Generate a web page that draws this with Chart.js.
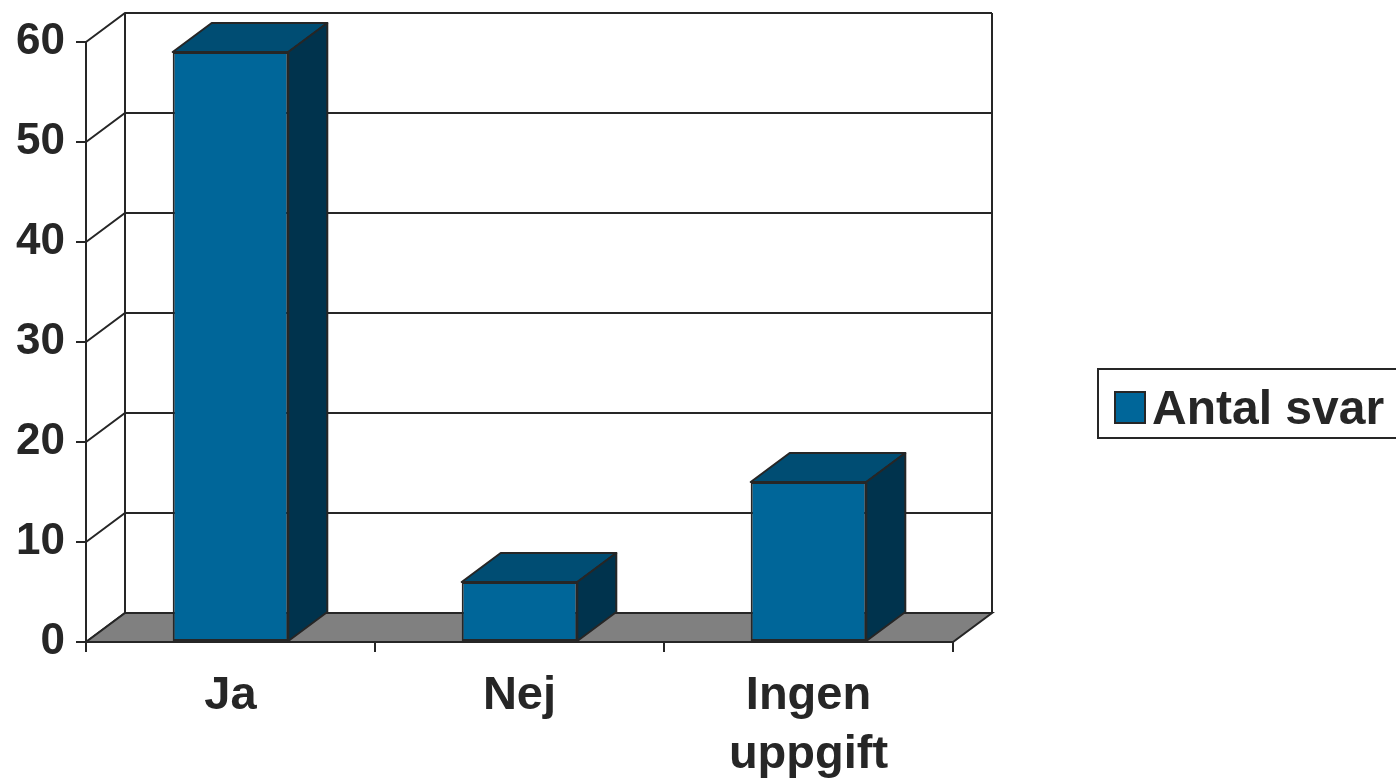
<!DOCTYPE html>
<html>
<head>
<meta charset="utf-8">
<script src="https://cdn.jsdelivr.net/npm/chart.js@4.4.0/dist/chart.umd.min.js"></script>
<style>
  body { margin: 0; background: #fff; }
  canvas { display: block; }
</style>
</head>
<body>
<canvas id="barChart" width="1396" height="784"></canvas>
<script>
// data
const categories = ['Ja', 'Nej', ['Ingen', 'uppgift']];
const answerCounts = [59, 6, 16];
const seriesName = 'Antal svar';
const yTicks = [0, 10, 20, 30, 40, 50, 60];

// look
const ink = '#262626';
const frontColor = '#006699';
const topColor = '#004d73';
const sideColor = '#00334d';
const floorColor = '#808080';
const depthX = 39;
const depthY = 29;
const fontFamily = '"Liberation Sans", Arial, sans-serif';

// back wall, side wall and the grey floor, drawn before the bars
const wallsPlugin = {
  id: 'walls',
  beforeDatasetsDraw(chart) {
    const { ctx, chartArea: a } = chart;
    const y = chart.scales.y;
    ctx.save();
    ctx.strokeStyle = ink;
    ctx.lineWidth = 2;

    yTicks.forEach(v => {
      const py = y.getPixelForValue(v);
      ctx.beginPath();
      ctx.moveTo(a.left, py);
      ctx.lineTo(a.left + depthX, py - depthY);
      ctx.lineTo(a.right + depthX, py - depthY);
      ctx.stroke();
    });

    ctx.beginPath();
    ctx.moveTo(a.left + depthX, a.bottom - depthY);
    ctx.lineTo(a.left + depthX, a.top - depthY);
    ctx.moveTo(a.right + depthX, a.bottom - depthY);
    ctx.lineTo(a.right + depthX, a.top - depthY);
    ctx.stroke();

    ctx.beginPath();
    ctx.moveTo(a.left, a.bottom);
    ctx.lineTo(a.right, a.bottom);
    ctx.lineTo(a.right + depthX, a.bottom - depthY);
    ctx.lineTo(a.left + depthX, a.bottom - depthY);
    ctx.closePath();
    ctx.fillStyle = floorColor;
    ctx.fill();
    ctx.stroke();
    ctx.restore();
  },

  // top and side faces of each column
  afterDatasetsDraw(chart) {
    const ctx = chart.ctx;
    ctx.save();
    ctx.strokeStyle = ink;
    ctx.lineWidth = 2;
    ctx.lineJoin = 'round';
    chart.getDatasetMeta(0).data.forEach(bar => {
      const left = bar.x - bar.width / 2;
      const right = bar.x + bar.width / 2;
      const top = bar.y;
      const base = bar.base;

      ctx.beginPath();
      ctx.moveTo(left, top);
      ctx.lineTo(left + depthX, top - depthY);
      ctx.lineTo(right + depthX, top - depthY);
      ctx.lineTo(right, top);
      ctx.closePath();
      ctx.fillStyle = topColor;
      ctx.fill();
      ctx.stroke();

      ctx.beginPath();
      ctx.moveTo(right, top);
      ctx.lineTo(right + depthX, top - depthY);
      ctx.lineTo(right + depthX, base - depthY);
      ctx.lineTo(right, base);
      ctx.closePath();
      ctx.fillStyle = sideColor;
      ctx.fill();
      ctx.stroke();
    });
    ctx.restore();
  },

  // framed legend on the right
  afterDraw(chart) {
    const ctx = chart.ctx;
    const ds = chart.data.datasets[0];
    ctx.save();
    ctx.strokeStyle = ink;
    ctx.lineWidth = 2;
    ctx.fillStyle = '#fff';
    ctx.fillRect(1098, 369, 310, 69);
    ctx.strokeRect(1098, 369, 310, 69);

    ctx.fillStyle = ds.backgroundColor;
    ctx.fillRect(1115, 392, 30, 31);
    ctx.strokeRect(1115, 392, 30, 31);

    ctx.fillStyle = ink;
    ctx.font = 'bold 48px ' + fontFamily;
    ctx.textBaseline = 'alphabetic';
    ctx.textAlign = 'left';
    ctx.fillText(ds.label, 1152, 424);
    ctx.restore();
  }
};

const ctx = document.getElementById('barChart').getContext('2d');
const chart = new Chart(ctx, {
  type: 'bar',
  data: {
    labels: categories,
    datasets: [{
      label: seriesName,
      data: answerCounts,
      backgroundColor: frontColor,
      borderColor: ink,
      borderWidth: 2,
      borderSkipped: false,
      categoryPercentage: 1,
      barPercentage: 0.4
    }]
  },
  options: {
    responsive: false,
    animation: false,
    layout: { padding: { top: 42, right: 443, left: 0, bottom: 0 } },
    plugins: {
      legend: { display: false },
      tooltip: { enabled: false }
    },
    scales: {
      x: {
        offset: true,
        grid: {
          offset: true,
          drawOnChartArea: false,
          drawTicks: true,
          tickLength: 10,
          color: ink,
          lineWidth: 2
        },
        border: { display: true, color: ink, width: 2 },
        ticks: {
          color: ink,
          padding: 14,
          maxRotation: 0,
          font: { family: fontFamily, size: 47, weight: 'bold', lineHeight: 1.27 }
        },
        afterFit(scale) { scale.height = 142; }
      },
      y: {
        min: 0,
        max: 60,
        grid: {
          drawOnChartArea: false,
          drawTicks: true,
          tickLength: 10,
          color: ink,
          lineWidth: 2
        },
        border: { display: true, color: ink, width: 2 },
        ticks: {
          stepSize: 10,
          color: ink,
          padding: 11,
          font: { family: fontFamily, size: 44, weight: 'bold' }
        },
        afterFit(scale) { scale.width = 86; }
      }
    }
  },
  plugins: [wallsPlugin]
});
</script>
</body>
</html>
